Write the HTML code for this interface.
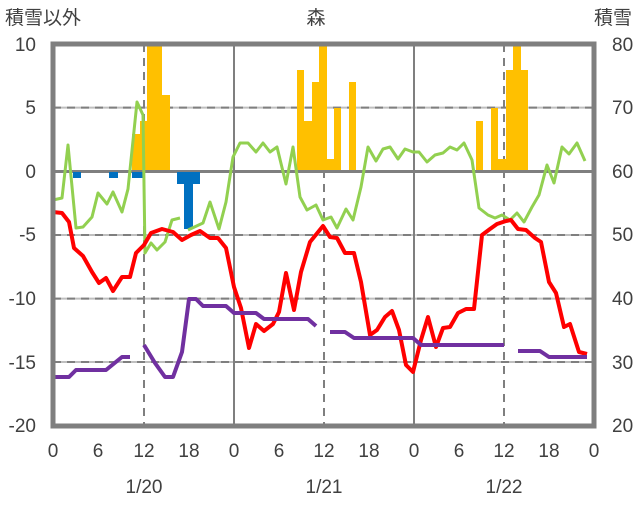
<!DOCTYPE html>
<html><head><meta charset="utf-8"><style>
body{margin:0;background:#fff}
svg text{font-family:"Liberation Sans","Noto Sans CJK JP",sans-serif;fill:#404040;font-size:19px}
</style></head><body>
<svg width="636" height="501" viewBox="0 0 636 501">
<rect width="636" height="501" fill="#fff"/>
<!-- gridlines -->
<g stroke="#bfbfbf" stroke-width="2">
<line x1="53" y1="107.6" x2="594" y2="107.6"/>
<line x1="53" y1="235" x2="594" y2="235"/>
<line x1="53" y1="298.6" x2="594" y2="298.6"/>
<line x1="53" y1="362" x2="594" y2="362"/>
</g>
<g stroke="#7f7f7f" stroke-width="2" stroke-dasharray="8,6">
<line x1="53" y1="107.6" x2="594" y2="107.6"/>
<line x1="53" y1="235" x2="594" y2="235"/>
<line x1="53" y1="298.6" x2="594" y2="298.6"/>
<line x1="53" y1="362" x2="594" y2="362"/>
<line x1="144" y1="44" x2="144" y2="426"/>
<line x1="324" y1="44" x2="324" y2="426"/>
<line x1="504" y1="44" x2="504" y2="426"/>
</g>
<g stroke="#7f7f7f" stroke-width="2">
<line x1="234" y1="44" x2="234" y2="426"/>
<line x1="414" y1="44" x2="414" y2="426"/>
</g>
<!-- snow bars -->
<g fill="#ffc000">
<rect x="132" y="134" width="8" height="37"/>
<rect x="140" y="121" width="7.5" height="50"/>
<rect x="147" y="45" width="15" height="126"/>
<rect x="162" y="95" width="8" height="76"/>
<rect x="297" y="70" width="7" height="101"/>
<rect x="304" y="121" width="8" height="50"/>
<rect x="312" y="82" width="7" height="89"/>
<rect x="319" y="45" width="8" height="126"/>
<rect x="327" y="159" width="7" height="12"/>
<rect x="334" y="108" width="7" height="63"/>
<rect x="349" y="82" width="7" height="89"/>
<rect x="476" y="121" width="7" height="50"/>
<rect x="491" y="108" width="7" height="63"/>
<rect x="498" y="159" width="8" height="12"/>
<rect x="506" y="70" width="7" height="101"/>
<rect x="513" y="45" width="8" height="126"/>
<rect x="521" y="70" width="7" height="101"/>
</g>
<line x1="53" y1="171.5" x2="594" y2="171.5" stroke="#7f7f7f" stroke-width="3"/>
<g fill="#0070c0">
<rect x="73" y="172" width="8" height="6"/>
<rect x="109" y="172" width="9" height="6"/>
<rect x="132" y="172" width="13" height="6"/>
<rect x="177" y="172" width="23" height="12"/>
<rect x="184" y="172" width="9" height="57"/>
</g>
<g fill="none" stroke-linejoin="round">
<polyline stroke="#92d050" stroke-width="3" points="53,200 62,198 68,145 76,228 83,227 92,217 98,193 107,204 113,192 122,212 128,189 137,102 143,115 145,253 151,243 157,250 165,242 172,220 180,218"/>
<polyline stroke="#92d050" stroke-width="3" points="188,230 203,223 210,202 219,229 226,202 233,157 240,143 248,143 256,152 263,143 270,152 277,147 286,184 293,147 300,197 307,210 316,205 323,220 331,217 337,228 346,209 353,220 361,187 368,147 376,161 383,149 390,147 398,159 405,149 413,152 419,152 427,162 435,155 443,153 450,147 457,150 464,143 472,160 479,208 488,215 495,218 502,215 510,220 517,213 524,222 532,207 539,195 547,165 554,183 562,147 569,154 577,143 585,161"/>
<polyline stroke="#ff0000" stroke-width="4" points="53,212 62,213 69,222 74,248 83,256 92,272 99,283 106,278 113,291 122,277 130,277 136,253 144,245 151,233 162,229 173,232 182,240 191,235 200,231 210,238 218,238 226,248 234,287 241,308 249,348 256,324 264,331 273,324 279,312 286,273 294,310 301,272 310,242 323,226 330,237 337,238 345,253 354,253 361,282 370,335 377,330 385,317 392,311 399,330 406,365 413,372 421,340 428,317 436,347 443,328 450,327 458,313 466,309 474,309 482,235 490,229 497,224 506,221 511,220 518,229 526,230 535,238 541,242 549,282 556,293 564,327 570,324 579,352 587,354"/>
<g stroke="#7030a0" stroke-width="4">
<polyline points="54,377 69,377 76,370 106,370 122,357 130,357"/>
<polyline points="144,345 155,363 165,377 173,377 182,352 189,299 196,299 203,306 226,306 234,313 256,313 264,319 308,319 316,326"/>
<polyline points="330,332 345,332 354,338 413,338 421,345 504,345"/>
<polyline points="518,351 540,351 549,357 587,357"/>
</g>
</g>
<rect x="53" y="44" width="541" height="382" fill="none" stroke="#7f7f7f" stroke-width="5"/>
<!-- labels -->
<text x="5" y="24">積雪以外</text>
<text x="316" y="24" text-anchor="middle">森</text>
<text x="632" y="24" text-anchor="end">積雪</text>
<g text-anchor="end">
<text x="36" y="51">10</text><text x="36" y="114">5</text><text x="36" y="178">0</text>
<text x="36" y="241">-5</text><text x="36" y="305">-10</text><text x="36" y="369">-15</text><text x="36" y="432">-20</text>
</g>
<g text-anchor="start">
<text x="612" y="51">80</text><text x="612" y="114">70</text><text x="612" y="178">60</text>
<text x="612" y="241">50</text><text x="612" y="305">40</text><text x="612" y="369">30</text><text x="612" y="432">20</text>
</g>
<g text-anchor="middle">
<text x="53" y="457">0</text><text x="98" y="457">6</text><text x="144" y="457">12</text><text x="189" y="457">18</text>
<text x="234" y="457">0</text><text x="279" y="457">6</text><text x="324" y="457">12</text><text x="369" y="457">18</text>
<text x="414" y="457">0</text><text x="459" y="457">6</text><text x="504" y="457">12</text><text x="549" y="457">18</text>
<text x="594" y="457">0</text>
<text x="144" y="493">1/20</text><text x="324" y="493">1/21</text><text x="504" y="493">1/22</text>
</g>
</svg>
</body></html>
